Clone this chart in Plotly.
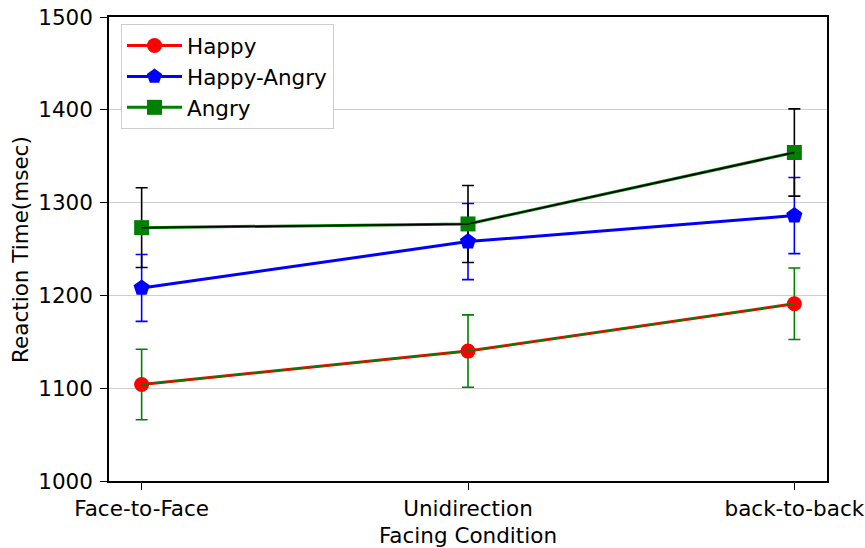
import plotly.graph_objects as go

# Facing conditions on the x axis
conditions = ["Face-to-Face", "Unidirection", "back-to-back"]
x_pos = [0, 1, 2]

# Mean reaction times (msec) and error-bar half-widths per expression
happy = [1104, 1140, 1191]
happy_err = [38, 39, 38.5]
happy_angry = [1208, 1258, 1286]
happy_angry_err = [36, 41, 41]
angry = [1273, 1277, 1354]
angry_err = [43, 41.5, 47]

y_ticks = [1000, 1100, 1200, 1300, 1400, 1500]

FONT = "DejaVu Sans"
FS = 21.5
series = [
    # name, values, errors, line colour, marker symbol, errorbar colour, overlay colour
    ("Happy", happy, happy_err, "#ff0000", "circle", "#008000", "#008000"),
    ("Happy-Angry", happy_angry, happy_angry_err, "#0000ff", "pentagon", "#0000ff", None),
    ("Angry", angry, angry_err, "#008000", "square", "#000000", "#000000"),
]

fig = go.Figure()

# Error bars first, so every data line and marker sits above them
for name, vals, errs, col, sym, ecol, ocol in series:
    fig.add_trace(go.Scatter(
        x=x_pos, y=vals, mode="markers",
        marker=dict(size=1, color="rgba(0,0,0,0)"),
        error_y=dict(type="data", array=errs, visible=True,
                     color=ecol, thickness=1.6, width=6),
        showlegend=False, hoverinfo="skip",
    ))

for name, vals, errs, col, sym, ecol, ocol in series:
    fig.add_trace(go.Scatter(
        x=x_pos, y=vals, mode="lines+markers", name=name,
        line=dict(color=col, width=3),
        marker=dict(symbol=sym, size=17 if sym == "pentagon" else 15,
                    color=col, line=dict(width=0)),
    ))
    if ocol:
        fig.add_trace(go.Scatter(
            x=x_pos, y=vals, mode="lines",
            line=dict(color=ocol, width=1.5),
            showlegend=False, hoverinfo="skip",
        ))

axis_common = dict(
    showline=True, linecolor="black", linewidth=1.5, mirror=True,
    ticks="outside", ticklen=7, tickwidth=1.3, tickcolor="black",
    tickfont=dict(family=FONT, size=FS, color="black"),
    zeroline=False, automargin=False,
)

fig.update_xaxes(
    range=[-0.1, 2.1], tickvals=x_pos, ticktext=conditions,
    showgrid=False,
    title=dict(text="Facing Condition", font=dict(family=FONT, size=FS, color="black"), standoff=8),
    **axis_common,
)
fig.update_yaxes(
    range=[1000, 1500], tickvals=y_ticks,
    showgrid=True, gridcolor="#cfcfcf", gridwidth=1,
    ticklabelstandoff=3,
    **axis_common,
)

# Y-axis title placed as a rotated annotation
fig.add_annotation(
    text="Reaction Time(msec)", xref="paper", yref="paper",
    x=-0.124, y=0.5, xanchor="center", yanchor="middle",
    textangle=-90, showarrow=False,
    font=dict(family=FONT, size=FS, color="black"),
)

fig.update_layout(
    width=865, height=548,
    margin=dict(l=109, r=38, t=17, b=67, autoexpand=False),
    paper_bgcolor="white", plot_bgcolor="white",
    font=dict(family=FONT, size=FS, color="black"),
    legend=dict(
        x=0.0167, y=0.985, xanchor="left", yanchor="top",
        bgcolor="white", bordercolor="#cccccc", borderwidth=1,
        font=dict(family=FONT, size=FS, color="black"),
        itemwidth=55,
    ),
)

fig.write_html("out.html")
